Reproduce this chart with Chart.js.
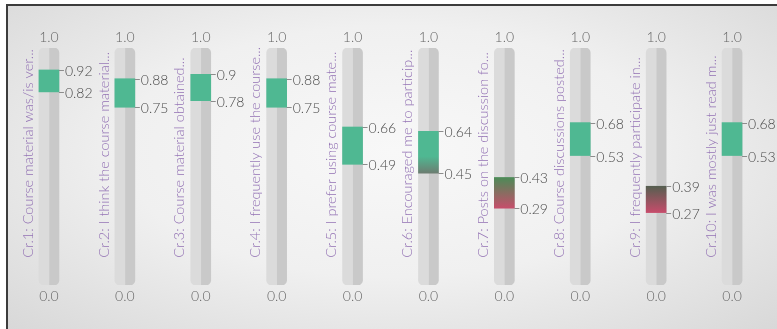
<!DOCTYPE html>
<html lang="en">
<head>
<meta charset="UTF-8">
<title>Course criteria ranges</title>
<script src="https://cdn.jsdelivr.net/npm/chart.js"></script>
<style>
  body {
    margin: 0;
    width: 777px;
    height: 329px;
    overflow: hidden;
    position: relative;
    background: #fff;
  }
  .frame {
    position: absolute;
    left: 6px;
    top: 4px;
    right: 0;
    bottom: 0;
    border-top: 2px solid #3c3c3c;
    border-left: 2px solid #3c3c3c;
    background: radial-gradient(ellipse at 50% 45%, #f8f8f8 0%, #f0f0f0 50%, #d8d8d8 100%);
  }
  canvas {
    position: absolute;
    left: 0;
    top: 0;
  }
</style>
</head>
<body>
<div class="frame"></div>
<canvas id="rangeChart" width="777" height="329"></canvas>
<script>
const criteria = [
  'Cr.1: Course material was/is ver...',
  'Cr.2: I think the course material...',
  'Cr.3: Course material obtained...',
  'Cr.4: I frequently use the course...',
  'Cr.5: I prefer using course mate...',
  'Cr.6: Encouraged me to particip...',
  'Cr.7: Posts on the discussion fo...',
  'Cr.8: Course discussions posted...',
  'Cr.9: I frequently participate in...',
  'Cr.10: I was mostly just read m...'
];
const lowValues = [0.82, 0.75, 0.78, 0.75, 0.49, 0.45, 0.29, 0.53, 0.27, 0.53];
const highValues = [0.92, 0.88, 0.9, 0.88, 0.66, 0.64, 0.43, 0.68, 0.39, 0.68];
const scaleTopLabel = '1.0';
const scaleBottomLabel = '0.0';
// the grey pill runs a little past 0 and 1
const trackLow = -0.06;
const trackHigh = 1.02;

// colours of each range bar (top -> bottom)
const green = '#4fb892';
const barTop = [green, green, green, green, green, green, '#4c8b57', green, '#565f50', green];
const barBottom = [green, green, green, green, green, '#6c7d71', '#c64e6b', green, '#c64c6b', green];

function rangeFill(context) {
  const i = context.dataIndex;
  const chart = context.chart;
  if (barTop[i] === barBottom[i] || !chart.chartArea) return barTop[i];
  const y = chart.scales.y;
  const g = chart.ctx.createLinearGradient(0, y.getPixelForValue(highValues[i]), 0, y.getPixelForValue(lowValues[i]));
  g.addColorStop(0, barTop[i]);
  if (i === 5) g.addColorStop(0.6, green);
  g.addColorStop(1, barBottom[i]);
  return g;
}

const labelPlugin = {
  id: 'rangeLabels',
  afterDatasetsDraw(chart) {
    const ctx = chart.ctx;
    const y = chart.scales.y;
    const meta = chart.getDatasetMeta(0);
    ctx.save();
    meta.data.forEach((bar, i) => {
      const right = bar.x + bar.width / 2;
      ctx.font = '300 14px Lato';
      ctx.textBaseline = 'middle';

      [highValues[i], lowValues[i]].forEach(v => {
        const py = Math.round(y.getPixelForValue(v));
        ctx.strokeStyle = '#8c8c8c';
        ctx.lineWidth = 1;
        ctx.beginPath();
        ctx.moveTo(right, py + 0.5);
        ctx.lineTo(right + 5, py + 0.5);
        ctx.stroke();
        ctx.fillStyle = '#4a4a4a';
        ctx.textAlign = 'left';
        ctx.fillText(String(v), right + 6, py + 1);
      });

      ctx.fillStyle = '#666';
      ctx.textAlign = 'center';
      ctx.fillText(scaleTopLabel, bar.x, y.getPixelForValue(trackHigh) - 11);
      ctx.fillText(scaleBottomLabel, bar.x, y.getPixelForValue(trackLow) + 11);

      ctx.save();
      ctx.translate(bar.x - 21, y.getPixelForValue(0) - 14);
      ctx.rotate(-Math.PI / 2);
      ctx.font = '300 14.5px Lato';
      ctx.textAlign = 'left';
      ctx.fillStyle = '#9372b4';
      ctx.fillText(criteria[i], 0, 0);
      ctx.restore();
    });
    ctx.restore();
  }
};

const ctx = document.getElementById('rangeChart').getContext('2d');
new Chart(ctx, {
  type: 'bar',
  data: {
    labels: criteria,
    datasets: [
      {
        label: 'Range',
        data: criteria.map((c, i) => [lowValues[i], highValues[i]]),
        backgroundColor: rangeFill,
        barThickness: 20,
        grouped: false,
        borderSkipped: false,
        borderRadius: 0
      },
      {
        label: 'Track left',
        data: criteria.map(() => [trackLow, trackHigh]),
        backgroundColor: '#dbdbdb',
        barThickness: 10,
        borderSkipped: false,
        borderRadius: { topLeft: 10, bottomLeft: 10, topRight: 0, bottomRight: 0 }
      },
      {
        label: 'Track right',
        data: criteria.map(() => [trackLow, trackHigh]),
        backgroundColor: '#c9c9c9',
        barThickness: 10,
        borderSkipped: false,
        borderRadius: { topLeft: 0, bottomLeft: 0, topRight: 10, bottomRight: 10 }
      }
    ]
  },
  options: {
    responsive: false,
    animation: false,
    layout: {
      padding: { left: 11, right: 7, top: 48, bottom: 44 }
    },
    scales: {
      x: { display: false },
      y: { display: false, min: trackLow, max: trackHigh }
    },
    plugins: {
      legend: { display: false },
      tooltip: { enabled: false }
    }
  },
  plugins: [labelPlugin]
});
</script>
</body>
</html>
